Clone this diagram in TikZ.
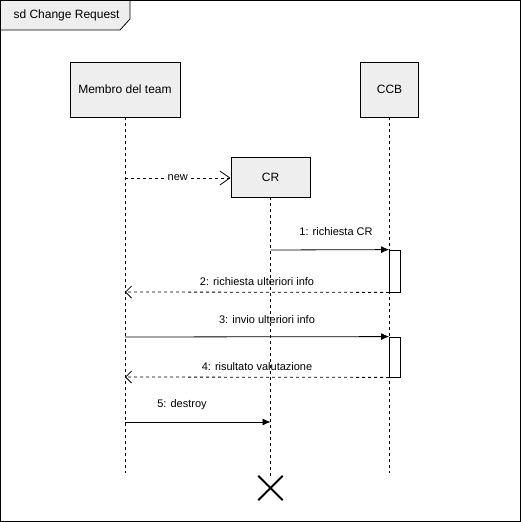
\documentclass[tikz,border=0pt]{standalone}
\usepackage{fontspec}
\setmainfont{Liberation Sans}
\usetikzlibrary{arrows.meta}
\definecolor{boxfill}{HTML}{EEEEEE}
\begin{document}
\begin{tikzpicture}[x=1pt,y=-1pt,
  lifebox/.style={draw=black,fill=boxfill,line width=0.8pt,inner sep=0pt,font=\fontsize{12}{14}\selectfont},
  lifeline/.style={draw=black,line width=0.8pt,dash pattern=on 3pt off 3pt},
  act/.style={draw=black,fill=white,line width=0.8pt,minimum width=11pt,minimum height=42pt,inner sep=0pt},
  syncmsg/.style={draw=black,line width=0.8pt,-{Latex[length=8pt,width=7pt]}},
  retmsg/.style={draw=black,line width=0.8pt,dash pattern=on 3pt off 3pt,-{Straight Barb[length=6pt,width=12pt]}},
  newmsg/.style={draw=black,line width=0.8pt,dash pattern=on 3pt off 3pt,-{Straight Barb[length=10pt,width=14pt]}},
  msglabel/.style={font=\fontsize{11}{13}\selectfont,inner sep=1pt}
]
\useasboundingbox (0,0) rectangle (521,522);
% frame
\draw[line width=0.8pt] (0.5,0.5) rectangle (520.5,521.5);
\draw[line width=0.8pt,fill=boxfill] (0.5,0.5) -- (130,0.5) -- (130,19) -- (120,30) -- (0.5,30) -- cycle;
\node[font=\fontsize{12}{14}\selectfont,anchor=west] (title) at (10,15) {sd Change Request};

% lifeline heads
\node[lifebox,minimum width=110pt,minimum height=55pt] (mt) at (125,89.5) {Membro del team};
\node[lifebox,minimum width=58pt,minimum height=55pt] (ccb) at (389.5,89.5) {CCB};
\node[lifebox,minimum width=79pt,minimum height=40pt] (cr) at (270.5,177) {CR};

% lifeline ends
\coordinate (mtend) at (125,473);
\coordinate (ccbend) at (389.5,473);
\coordinate (crend) at (270.5,476);
\draw[lifeline] (mt.south) -- (mtend);
\draw[lifeline] (ccb.south) -- (ccbend);
\draw[lifeline] (cr.south) -- (crend);

% activations
\node[act,minimum height=42pt] (a1) at (395,271) {};
\node[act,minimum height=40pt] (a2) at (395,357) {};

% destroy mark
\node[minimum size=24pt,inner sep=0pt] (x) at (270.5,488) {};
\draw[line width=2pt] (x.north west) -- (x.south east);
\draw[line width=2pt] (x.north east) -- (x.south west);

% message coordinates
\coordinate (m0s) at (125,178);
\coordinate (m1s) at (270.5,250);
\coordinate (m2e) at (125,292);
\coordinate (m3s) at (125,337);
\coordinate (m4e) at (125,377);
\coordinate (m5s) at (125,422);
\coordinate (m5e) at (270.5,422);

% messages
\draw[newmsg] (m0s) -- (cr.west |- m0s) node[pos=0.5,msglabel,fill=white] (l0) {new};
\draw[syncmsg] (m1s) -- (a1.north west);
\node[msglabel] (l1) at (336,232) {1: richiesta CR};
\draw[retmsg] (a1.south west) -- (m2e);
\node[msglabel] (l2) at (257,282) {2: richiesta ulteriori info};
\draw[syncmsg] (m3s) -- (a2.north west);
\node[msglabel] (l3) at (267,320) {3: invio ulteriori info};
\draw[retmsg] (a2.south west) -- (m4e);
\node[msglabel] (l4) at (257,367) {4: risultato valutazione};
\draw[syncmsg] (m5s) -- (m5e);
\node[msglabel] (l5) at (182,405) {5: destroy};
\end{tikzpicture}
\end{document}
